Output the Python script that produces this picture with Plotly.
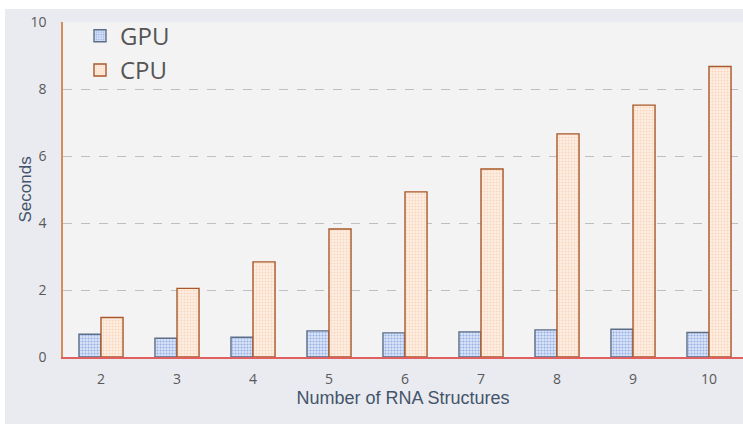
import plotly.graph_objects as go

categories = ["2", "3", "4", "5", "6", "7", "8", "9", "10"]
gpu = [0.68, 0.56, 0.59, 0.78, 0.72, 0.75, 0.81, 0.83, 0.73]
cpu = [1.18, 2.05, 2.84, 3.82, 4.93, 5.61, 6.66, 7.52, 8.67]
y_ticks = [0, 2, 4, 6, 8, 10]

W, H = 743, 424
L, R, T, B = 63, 0, 22, 67
pw = W - L - R
ph = H - T - B

fig = go.Figure()
fig.add_trace(go.Bar(
    name="GPU", x=categories, y=gpu,
    marker=dict(color="#DCE6F8",
                line=dict(color="#5E6E88", width=1.4),
                pattern=dict(shape=".", fgcolor="#4A78D0", bgcolor="#DCE6F8",
                             size=3, solidity=0.4)),
))
fig.add_trace(go.Bar(
    name="CPU", x=categories, y=cpu,
    marker=dict(color="#FDEDE2",
                line=dict(color="#A8582A", width=1.4),
                pattern=dict(shape=".", fgcolor="#F7BE96", bgcolor="#FDEEE4",
                             size=3, solidity=0.4)),
))

def px_x(px):
    return (px - L) / pw

def px_y(py):
    return (H - B - py) / ph

shapes = [
    dict(type="rect", xref="paper", yref="paper", layer="below",
         x0=px_x(5), x1=px_x(760), y0=px_y(430), y1=px_y(9),
         fillcolor="#E9EBF0", line=dict(width=0)),
    dict(type="rect", xref="paper", yref="paper", layer="below",
         x0=0, x1=px_x(760), y0=0, y1=1,
         fillcolor="#F3F3F3", line=dict(width=0)),
]

annotations = [
    dict(text="Seconds", xref="paper", yref="paper",
         x=px_x(25), y=0.5, xanchor="center", yanchor="middle",
         textangle=-90, showarrow=False,
         font=dict(size=17, color="#44546A", family="Liberation Sans")),
]

fig.update_layout(
    width=W, height=H,
    margin=dict(l=L, r=R, t=T, b=B, autoexpand=False),
    paper_bgcolor="white",
    plot_bgcolor="rgba(0,0,0,0)",
    barmode="group", bargap=0.42, bargroupgap=0,
    shapes=shapes,
    annotations=annotations,
    font=dict(family="Open Sans", color="#595959"),
    legend=dict(x=0.025, y=1.025, xanchor="left", yanchor="top",
                bgcolor="rgba(0,0,0,0)", tracegroupgap=0,
                font=dict(size=24, color="#555555", family="Open Sans")),
    xaxis=dict(
        automargin=False,
        range=[-0.5, -0.5 + pw / 76.0],
        showgrid=False, showline=True, linecolor="#E06060", linewidth=2,
        ticks="", tickfont=dict(size=14, color="#595959"),
        ticklabelstandoff=8,
        title=dict(text="Number of RNA Structures",
                   font=dict(size=18, color="#44546A", family="Liberation Sans"),
                   standoff=5),
    ),
    yaxis=dict(
        automargin=False,
        range=[0, 10], tickvals=y_ticks,
        showgrid=True, gridcolor="#BFBFBF", griddash="dash", gridwidth=1,
        zeroline=False,
        showline=True, linecolor="#D98A5A", linewidth=1.5,
        ticks="", tickfont=dict(size=14, color="#595959"),
        ticklabelstandoff=12,
    ),
)

fig.write_html("out.html",
               config={"displayModeBar": False},
               post_script="document.body.style.margin='0';document.body.style.overflow='hidden';")
